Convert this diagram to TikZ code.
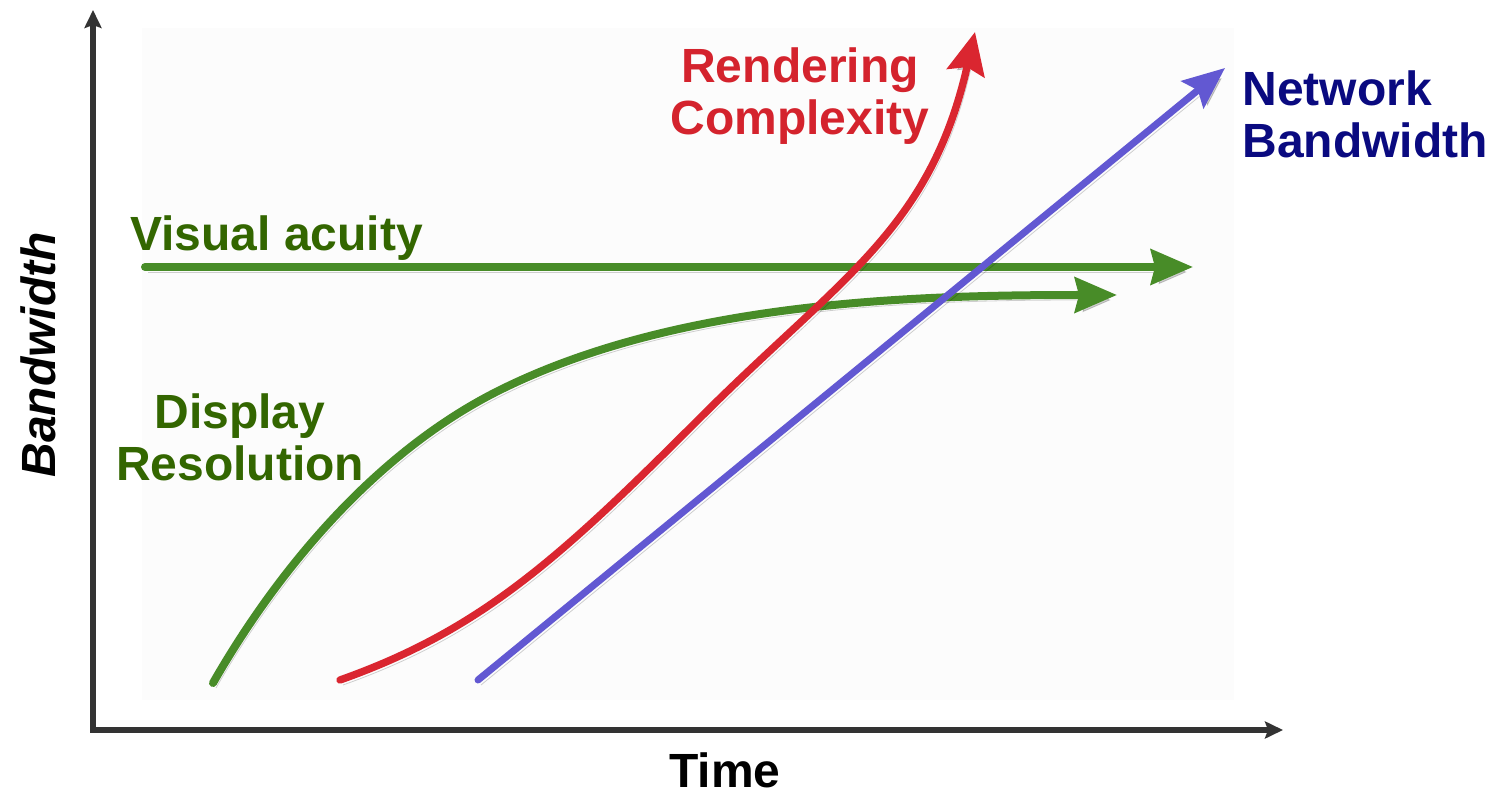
\documentclass[tikz,border=0pt]{standalone}
\usepackage{fontspec}
\setmainfont{Liberation Sans}
\usetikzlibrary{arrows.meta}
\definecolor{gline}{RGB}{72,140,40}
\definecolor{gtext}{RGB}{51,102,0}
\definecolor{rline}{RGB}{218,38,48}
\definecolor{rtext}{RGB}{212,35,45}
\definecolor{bline}{RGB}{98,88,210}
\definecolor{btext}{RGB}{10,10,128}
\definecolor{axiscol}{RGB}{51,51,51}
\begin{document}
\begin{tikzpicture}[x=0.5pt,y=-0.5pt,
  lbl/.style={font=\fontsize{24}{26}\selectfont\bfseries, inner sep=0pt, align=center},
  axisline/.style={draw=axiscol, line width=2.8pt, line cap=rect, -{Stealth[length=9pt,width=8.5pt,inset=1.5pt]}},
  curve/.style={line width=4pt, line cap=round,
     preaction={draw=black, opacity=0.18, transform canvas={shift={(1.5pt,-2.5pt)}}}},
  greenhead/.style={-{Stealth[length=21pt,width=17.5pt,inset=2pt]}},
  redhead/.style={-{Stealth[length=21pt,width=19pt,inset=3pt]}},
  bluehead/.style={-{Stealth[length=21pt,width=17.5pt,inset=3.5pt]}}
]
\useasboundingbox (0,0) rectangle (1493,796);
\fill[black!1.2] (142,28) rectangle (1234,700);

% axes
\coordinate (O) at (93,730);
\coordinate (ytip) at (93,10);
\coordinate (xtip) at (1283,730);
\draw[axisline] (O) -- (ytip);
\draw[axisline] (O) -- (xtip);

% visual acuity
\coordinate (va0) at (145,267);
\coordinate (va1) at (1193,267);
\draw[curve, greenhead, draw=gline] (va0) -- (va1);

% display resolution
\coordinate (dr0) at (213,683);
\coordinate (drm) at (500,390);
\coordinate (dr1) at (1117,295);
\draw[curve, greenhead, draw=gline] (dr0) .. controls (280,566) and (379,450) .. (drm)
   .. controls (679,301) and (917,295) .. (dr1);

% network bandwidth
\coordinate (nb0) at (478,680);
\coordinate (nb1) at (1225,68);
\draw[curve, line width=3.5pt, bluehead, draw=bline] (nb0) -- (nb1);

% rendering complexity
\coordinate (rc0) at (340,680);
\coordinate (rcm) at (700,418);
\coordinate (rc1) at (975,32);
\draw[curve, line width=3.7pt, redhead, draw=rline] (rc0) .. controls (481,630) and (559,559) .. (rcm)
   .. controls (841,277) and (930,230) .. (rc1);

% labels
\node[lbl, text=rtext, anchor=north] (rc) at (800,47) {Rendering\\Complexity};
\node[lbl, text=btext, anchor=north west, align=left] (nbl) at (1242,70) {Network\\Bandwidth};
\node[lbl, text=gtext, anchor=north west] (val) at (130,215) {Visual acuity};
\node[lbl, text=gtext, anchor=north] (drl) at (240,393) {Display\\Resolution};
\node[lbl, text=black, font=\fontsize{24}{26}\selectfont\bfseries\itshape, rotate=90] (yl) at (38,355) {Bandwidth};
\node[lbl, text=black, anchor=north] (xl) at (725,752) {Time};
\end{tikzpicture}
\end{document}
